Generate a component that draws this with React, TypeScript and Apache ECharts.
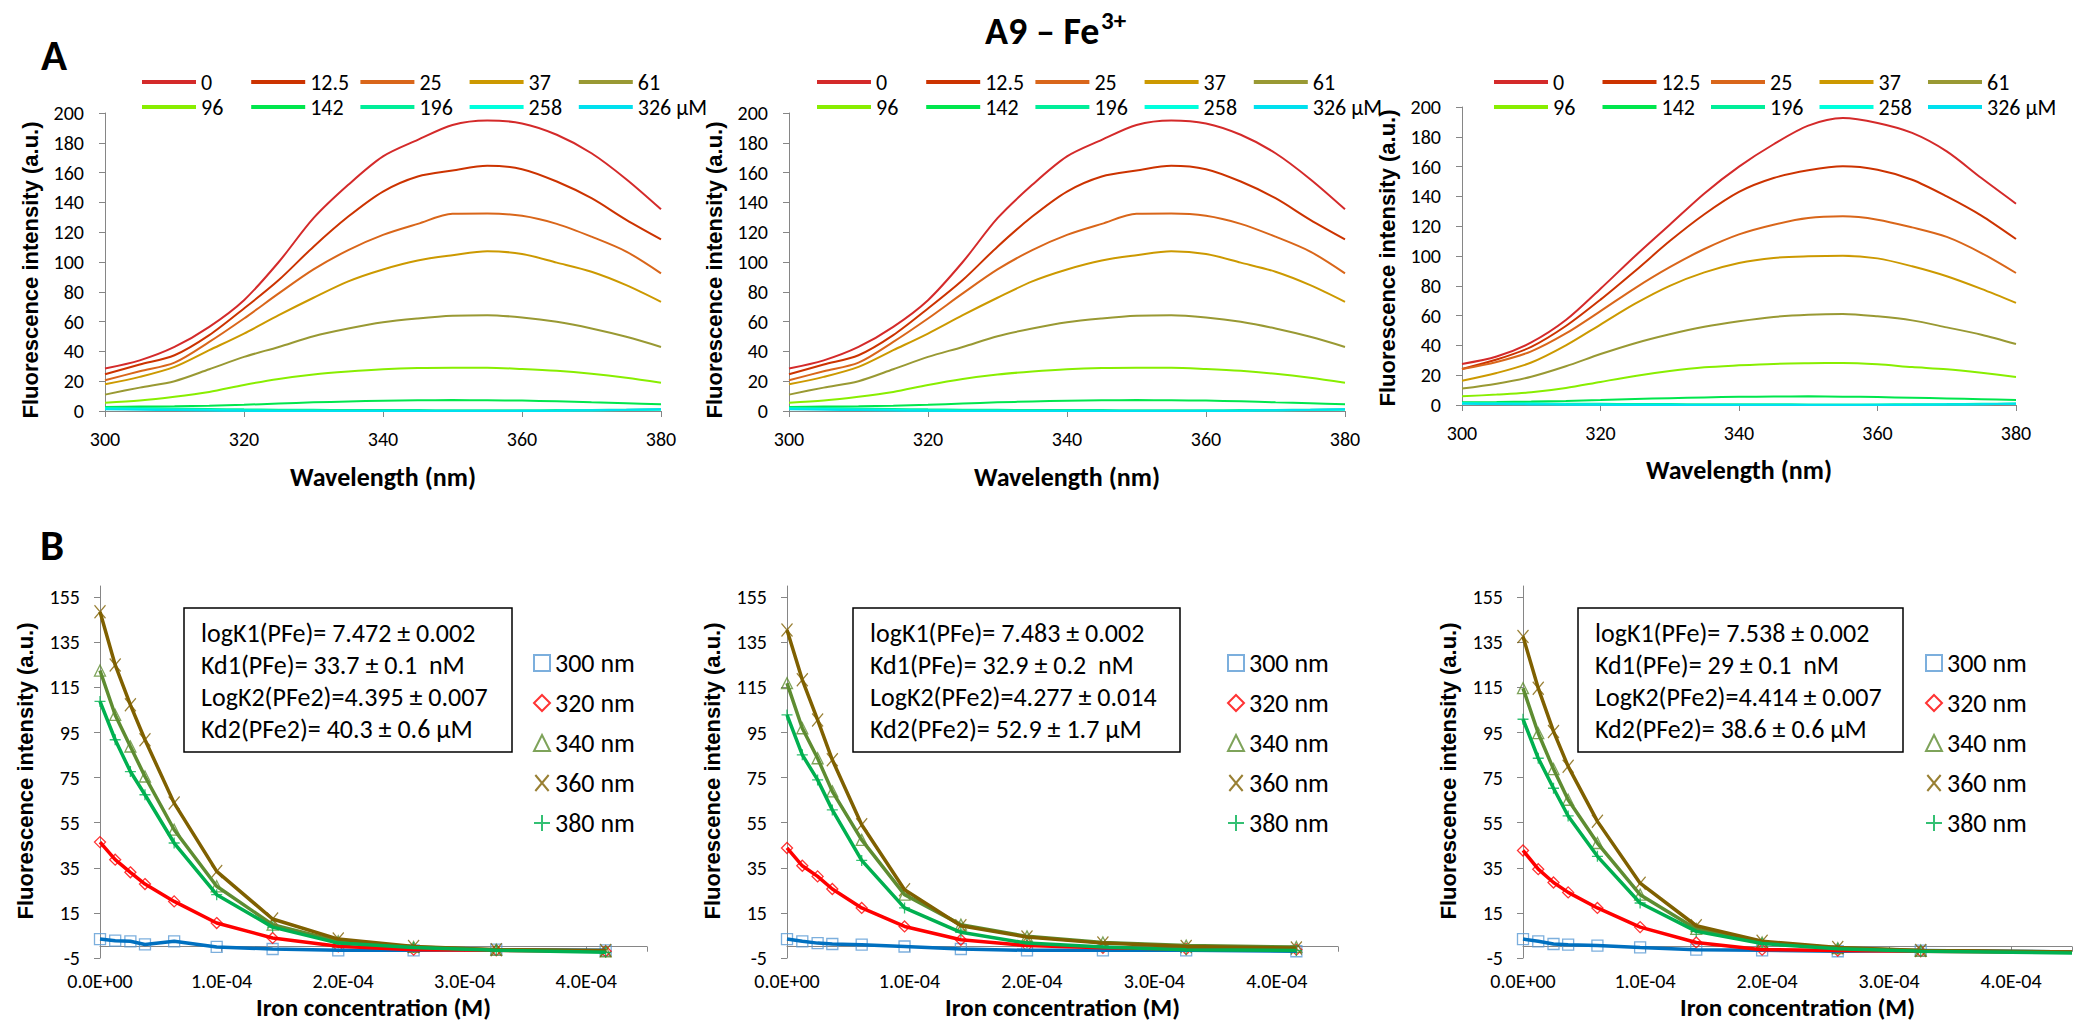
import { useEffect, useRef } from 'react';
import * as echarts from 'echarts';

const FONT = 'Carlito, Calibri, "Liberation Sans", Arial, sans-serif';
const FONT_ARIAL = '"Liberation Sans", Arial, sans-serif';

// ---------- Panel A: emission spectra ----------
const wavelengths = [300, 305, 310, 315, 320, 325, 330, 335, 340, 345, 350, 355, 360, 365, 370, 375, 380];
const titrationLabels = ['0', '12.5', '25', '37', '61', '96', '142', '196', '258', '326 μM'];
const spectrumColors = ['#d42a2a', '#cc3300', '#d9661a', '#cc9900', '#999933', '#88ee00', '#00e64d', '#00ee99', '#00ffdd', '#00e0ee'];

const a1_0 = [28.5, 34, 43, 56.5, 74.4, 100, 129.4, 151.8, 170.9, 182, 192, 195, 193, 185.4, 173, 155.6, 135.4];
const a1_12 = [24.7, 31.2, 37.4, 50.9, 68.8, 87.9, 110.3, 130.5, 147.3, 157.4, 161.4, 164.6, 162.3, 154, 142.8, 128.3, 115.2];
const a1_25 = [20.6, 26.7, 32.5, 46.4, 62.1, 78.9, 95, 108, 118.2, 125.6, 132.3, 132.5, 131, 125.6, 117, 107, 92.4];
const a1_37 = [17.9, 22.9, 29.6, 40.8, 52, 64.3, 76, 87, 95, 101, 104.5, 107.2, 105.4, 99.6, 93.5, 84.5, 73.3];
const a1_61 = [11, 15.7, 20, 28, 36.3, 43, 50.2, 55.4, 59.6, 62.1, 63.9, 64.3, 62.8, 59.9, 55.4, 49.8, 43];
const a1_96 = [5.6, 7, 9.5, 12.8, 17.5, 21.5, 24.5, 26.5, 28, 28.8, 29, 29, 28.2, 27, 25, 22.3, 19];
const a1_142 = [2.7, 3, 3.2, 3.6, 4.2, 5, 5.8, 6.4, 6.9, 7.2, 7.3, 7.2, 7, 6.5, 5.8, 5.2, 4.5];
const a1_196 = [2.2, 2, 1.7, 1.4, 1.1, 0.9, 0.8, 0.7, 0.6, 0.6, 0.5, 0.5, 0.5, 0.6, 0.7, 0.9, 1.1];
const a1_258 = [1.6, 1.3, 1, 0.7, 0.4, 0.2, 0.1, 0, 0, 0, 0, 0, 0.1, 0.2, 0.4, 0.6, 0.9];
const a1_326 = [1.2, 0.9, 0.6, 0.3, 0.1, 0, 0, 0, 0, 0, 0, 0, 0, 0.2, 0.5, 0.8, 1.2];

const a3_0 = [27.5, 32.5, 42, 57, 78, 100, 121, 142, 160, 175, 187.5, 192.6, 189.3, 182.6, 170.2, 152.3, 135.1];
const a3_12 = [24.2, 30.5, 39, 53, 70.7, 90, 110, 128, 143, 152.3, 157.5, 160.2, 157.9, 151.2, 140, 127.1, 111.4];
const a3_25 = [24.2, 28.9, 36, 48, 63, 78.5, 92.5, 104.7, 114.5, 121, 125.5, 126.6, 124.4, 119.2, 112.8, 102, 88.6];
const a3_37 = [16.3, 21.5, 28.5, 40, 54, 68, 80, 89, 95.3, 98.7, 99.8, 100.2, 98.4, 93.1, 86.4, 77.9, 68.5];
const a3_61 = [11, 14.3, 19, 26, 34.2, 41.5, 47.5, 52.5, 56.2, 59.1, 60.6, 61.1, 59.5, 56.8, 52.1, 47.2, 40.9];
const a3_96 = [5.8, 7, 8.5, 11.4, 15.5, 19.5, 22.8, 25.3, 26.6, 27.6, 28, 28.2, 27.3, 25.5, 24, 21.6, 18.8];
const a3_142 = [1.8, 2, 2.3, 2.7, 3.3, 4, 4.6, 5.1, 5.5, 5.7, 5.8, 5.6, 5.3, 4.9, 4.4, 3.9, 3.4];
const a3_196 = [1.5, 1.3, 1.1, 0.9, 0.8, 0.7, 0.6, 0.5, 0.5, 0.5, 0.4, 0.4, 0.4, 0.5, 0.6, 0.8, 1];
const a3_258 = [1.2, 1, 0.8, 0.5, 0.3, 0.2, 0.1, 0, 0, 0, 0, 0, 0.1, 0.2, 0.3, 0.5, 0.8];
const a3_326 = [0.8, 0.6, 0.4, 0.2, 0.1, 0, 0, 0, 0, 0, 0, 0, 0, 0.1, 0.3, 0.5, 0.8];

const spectraA1 = [a1_0, a1_12, a1_25, a1_37, a1_61, a1_96, a1_142, a1_196, a1_258, a1_326];
const spectraA2 = spectraA1; // the middle panel repeats the same spectra
const spectraA3 = [a3_0, a3_12, a3_25, a3_37, a3_61, a3_96, a3_142, a3_196, a3_258, a3_326];

// ---------- Panel B: titration curves ----------
const bLabels = ['300 nm', '320 nm', '340 nm', '360 nm', '380 nm'];
const bLineColors = ['#0070c0', '#ff0000', '#5e8c31', '#7f6000', '#00b050'];
const bMarkerColors = ['#5b9bd5', '#ff0000', '#5e8c31', '#7f6000', '#00b050'];
const bSymbols = ['rect', 'diamond', 'triangle', 'path://M0,0L10,12M10,0L0,12', 'path://M5,0L5,10M0,5L10,5'];

const concB12 = [0, 12.5e-6, 25e-6, 37e-6, 61e-6, 96e-6, 142e-6, 196e-6, 258e-6, 326e-6, 416e-6];
const concB3 = [0, 12.5e-6, 25e-6, 37e-6, 61e-6, 96e-6, 142e-6, 196e-6, 258e-6, 326e-6, 450e-6];

const b1_300 = [3.4, 2.7, 2.4, 1.0, 2.4, -0.1, -1.0, -1.6, -1.6, -1.3, -1.6];
const b1_320 = [46.4, 38.6, 33, 27.8, 20.1, 10.5, 3.9, 0.2, -1.3, -1.6, -2.0];
const b1_340 = [122.5, 102.8, 88.8, 75.5, 51.9, 26.8, 9.8, 2.4, -0.1, -1.3, -2.0];
const b1_360 = [148.6, 125, 107.3, 91.8, 63.7, 33.4, 12.3, 3.4, 0.1, -1.3, -1.7];
const b1_380 = [108.8, 91.8, 77.7, 67.4, 46, 23.1, 8.7, 1.6, -0.3, -1.6, -2.5];

const b2_300 = [3.4, 2.4, 1.6, 1.2, 0.9, 0.1, -1.0, -1.6, -1.6, -1.6, -2.0];
const b2_320 = [43.8, 35.9, 31.2, 25.6, 17.2, 9.0, 3.1, 0.5, -0.5, -1.0, -1.3];
const b2_340 = [116.9, 96.9, 83.6, 68.9, 47.4, 23.1, 9.8, 4.6, 1.9, 0.5, -0.1];
const b2_360 = [140.5, 118.4, 100.6, 82.9, 54.1, 25.3, 9.3, 4.3, 1.6, 0.1, -0.6];
const b2_380 = [102.8, 85.1, 74, 60.7, 38.3, 17.2, 6.4, 1.6, -0.1, -1.3, -1.7];

const b3_300 = [3.4, 2.4, 1.2, 0.9, 0.5, -0.3, -1.3, -1.6, -2.0, -1.7, -2.3];
const b3_320 = [42.7, 34.4, 28.5, 24.1, 17.2, 8.7, 1.9, -1.3, -1.7, -2.0, -2.5];
const b3_340 = [114.7, 94.7, 78.8, 65.2, 46, 23.1, 7.9, 1.9, -0.6, -1.7, -2.5];
const b3_360 = [137.6, 114.7, 95.5, 80, 55.6, 28.2, 9.3, 2.4, -0.3, -1.7, -2.3];
const b3_380 = [100.9, 83.6, 70.3, 58, 40.1, 19.4, 6.8, 1.4, -0.9, -2.0, -2.8];

const fitTextB1 = ['logK1(PFe)= 7.472 ± 0.002', 'Kd1(PFe)= 33.7 ± 0.1  nM', 'LogK2(PFe2)=4.395 ± 0.007', 'Kd2(PFe2)= 40.3 ± 0.6 μM'];
const fitTextB2 = ['logK1(PFe)= 7.483 ± 0.002', 'Kd1(PFe)= 32.9 ± 0.2  nM', 'LogK2(PFe2)=4.277 ± 0.014', 'Kd2(PFe2)= 52.9 ± 1.7 μM'];
const fitTextB3 = ['logK1(PFe)= 7.538 ± 0.002', 'Kd1(PFe)= 29 ± 0.1  nM', 'LogK2(PFe2)=4.414 ± 0.007', 'Kd2(PFe2)= 38.6 ± 0.6 μM'];

const AXIS_GRAY = '#868686';

function sciLabel(v: number) {
  const [m, e] = v.toExponential(1).split('e');
  const sign = e[0] === '-' ? '-' : '+';
  const digits = e.replace(/^[+-]/, '').padStart(2, '0');
  return `${m}E${sign}${digits}`;
}

function buildOption() {
  const aPanels = [
    { grid: { left: 105, top: 113, width: 556, height: 298 }, spectra: spectraA1, legendLeft: 142, step: 109.2, titleY: 270 },
    { grid: { left: 789, top: 113, width: 556, height: 298 }, spectra: spectraA2, legendLeft: 817, step: 109.2, titleY: 270 },
    { grid: { left: 1462, top: 107, width: 554, height: 298 }, spectra: spectraA3, legendLeft: 1494, step: 108.5, titleY: 258 },
  ];
  const bPanels = [
    { grid: { left: 100, top: 586, width: 547, height: 372 }, conc: concB12, markers: 11, vals: [b1_300, b1_320, b1_340, b1_360, b1_380], box: [184, 608, 328, 144], text: fitTextB1, legendLeft: 533 },
    { grid: { left: 787, top: 586, width: 551, height: 372 }, conc: concB12, markers: 11, vals: [b2_300, b2_320, b2_340, b2_360, b2_380], box: [853, 608, 327, 144], text: fitTextB2, legendLeft: 1227 },
    { grid: { left: 1523, top: 586, width: 549, height: 372 }, conc: concB3, markers: 10, vals: [b3_300, b3_320, b3_340, b3_360, b3_380], box: [1578, 608, 325, 144], text: fitTextB3, legendLeft: 1925 },
  ];

  const grid: any[] = [];
  const xAxis: any[] = [];
  const yAxis: any[] = [];
  const series: any[] = [];
  const legend: any[] = [];
  const graphic: any[] = [];

  const axisLine = { show: true, lineStyle: { color: AXIS_GRAY, width: 1 } };
  const axisTick = { show: true, length: 6, lineStyle: { color: AXIS_GRAY } };

  const titleText = (text: string, x: number, y: number, size: number, family: string, rotate = false) => ({
    type: 'text',
    x,
    y,
    rotation: rotate ? Math.PI / 2 : 0,
    z: 100,
    style: {
      text,
      fill: '#000',
      fontSize: size,
      fontWeight: 'bold',
      fontFamily: family,
      align: 'center',
      verticalAlign: 'middle',
      textAlign: 'center',
      textVerticalAlign: 'middle',
    },
  });

  aPanels.forEach((p, idx) => {
    grid.push({ ...p.grid, containLabel: false, outerBoundsMode: 'none' });
    xAxis.push({
      type: 'value', gridIndex: idx, min: 300, max: 380, interval: 20,
      axisLine, axisTick, splitLine: { show: false },
      axisLabel: { fontSize: 20, color: '#000', margin: 18, fontFamily: FONT },
    });
    yAxis.push({
      type: 'value', gridIndex: idx, min: 0, max: 200, interval: 20,
      axisLine, axisTick, splitLine: { show: false },
      axisLabel: { fontSize: 20, color: '#000', margin: 21, fontFamily: FONT },
    });
    p.spectra.forEach((arr, i) => {
      series.push({
        type: 'line', name: titrationLabels[i], xAxisIndex: idx, yAxisIndex: idx,
        data: wavelengths.map((w, k) => [w, arr[k]]),
        showSymbol: false, smooth: 0.3, z: 2,
        lineStyle: { width: 2, color: spectrumColors[i] },
        itemStyle: { color: spectrumColors[i] },
      });
      const col = i % 5;
      const row = Math.floor(i / 5);
      legend.push({
        data: [titrationLabels[i]],
        left: p.legendLeft + col * p.step,
        top: (row === 0 ? 82 : 107) - 11,
        padding: 0,
        icon: 'rect',
        itemWidth: 54,
        itemHeight: 4,
        selectedMode: false,
        textStyle: { fontSize: 22, lineHeight: 22, color: '#000', fontFamily: FONT },
      });
    });
    const g = p.grid;
    graphic.push(titleText('Wavelength (nm)', g.left + g.width / 2, idx === 2 ? 470 : 477, 26, FONT));
    graphic.push(titleText('Fluorescence intensity (a.u.)', g.left - 75, p.titleY, 22, FONT_ARIAL, true));
  });

  bPanels.forEach((p, q) => {
    const gi = 3 + q;
    grid.push({ ...p.grid, containLabel: false, outerBoundsMode: 'none' });
    yAxis.push({
      type: 'value', gridIndex: gi, min: -5, max: 160, interval: 20,
      axisLine, axisTick, splitLine: { show: false },
      axisLabel: { fontSize: 20, lineHeight: 20, color: '#000', margin: 20, fontFamily: FONT, showMaxLabel: false },
    });
  });
  // label axes (bottom) for B panels: indices 3..5
  bPanels.forEach((p, q) => {
    xAxis.push({
      type: 'value', gridIndex: 3 + q, min: 0, max: 4.5e-4, interval: 1e-4, position: 'bottom',
      axisLine: { show: false, onZero: false }, axisTick: { show: false }, splitLine: { show: false },
      axisLabel: { fontSize: 20, lineHeight: 20, color: '#000', margin: 13, fontFamily: FONT, showMaxLabel: false, formatter: (v: number) => sciLabel(v) },
    });
  });
  // zero-line axes for B panels: indices 6..8
  bPanels.forEach((p, q) => {
    xAxis.push({
      type: 'value', gridIndex: 3 + q, min: 0, max: 4.5e-4, interval: 1e-4, position: 'top',
      axisLine: { show: true, onZero: true, lineStyle: { color: AXIS_GRAY, width: 1 } },
      axisTick: { show: true, inside: true, length: 5, lineStyle: { color: AXIS_GRAY } },
      axisLabel: { show: false }, splitLine: { show: false },
    });
  });

  bPanels.forEach((p, q) => {
    const gi = 3 + q;
    p.vals.forEach((vals, j) => {
      series.push({
        type: 'scatter', name: bLabels[j], xAxisIndex: gi, yAxisIndex: gi,
        data: p.conc.slice(0, p.markers).map((c, k) => [c, vals[k]]),
        symbol: bSymbols[j], symbolSize: j === 3 ? [11, 13] : 11, z: 2,
        itemStyle: { color: 'rgba(0,0,0,0)', borderColor: bMarkerColors[j], borderWidth: 1.3 },
      });
    });
    p.vals.forEach((vals, j) => {
      series.push({
        type: 'line', name: bLabels[j] + ' fit', xAxisIndex: gi, yAxisIndex: gi,
        data: p.conc.map((c, k) => [c, vals[k]]),
        showSymbol: false, smooth: false, z: 3,
        lineStyle: { width: 3.5, color: bLineColors[j] },
        itemStyle: { color: bLineColors[j] },
      });
    });
    legend.push({
      data: bLabels,
      orient: 'vertical',
      left: p.legendLeft,
      top: 663 - 13,
      padding: 0,
      itemWidth: 16,
      itemHeight: 16,
      itemGap: 14,
      selectedMode: false,
      itemStyle: { borderWidth: 2 },
      textStyle: { fontSize: 26, lineHeight: 26, color: '#000', fontFamily: FONT },
    });
    const [bx, by, bw, bh] = p.box;
    graphic.push({
      type: 'rect', z: 90,
      shape: { x: bx, y: by, width: bw, height: bh },
      style: { fill: '#fff', stroke: '#000', lineWidth: 1.5 },
    });
    p.text.forEach((line, k) => {
      graphic.push({
        type: 'text', x: bx + 17, y: 633 + k * 32, z: 100,
        style: {
          text: line, fill: '#000', fontSize: 26, fontFamily: FONT,
          align: 'left', verticalAlign: 'middle', textAlign: 'left', textVerticalAlign: 'middle',
        },
      });
    });
    const g = p.grid;
    graphic.push(titleText('Iron concentration (M)', g.left + g.width / 2, 1007, 25, FONT));
    graphic.push(titleText('Fluorescence intensity (a.u.)', g.left - 75, 771, 22, FONT_ARIAL, true));
  });

  // Figure title and panel letters
  graphic.push({
    type: 'text', x: 985, y: 31, z: 100,
    style: { text: 'A9 – Fe', fill: '#000', fontSize: 38, fontWeight: 'bold', fontFamily: FONT, align: 'left', verticalAlign: 'middle', textAlign: 'left', textVerticalAlign: 'middle' },
  });
  graphic.push({
    type: 'text', x: 1101, y: 20, z: 100,
    style: { text: '3+', fill: '#000', fontSize: 25, fontWeight: 'bold', fontFamily: FONT, align: 'left', verticalAlign: 'middle', textAlign: 'left', textVerticalAlign: 'middle' },
  });
  graphic.push(titleText('A', 54, 55, 43, FONT));
  graphic.push(titleText('B', 52, 545, 43, FONT));

  return {
    animation: false,
    backgroundColor: '#ffffff',
    textStyle: { fontFamily: FONT },
    grid,
    xAxis,
    yAxis,
    legend,
    series,
    graphic,
  };
}

export default function App() {
  const ref = useRef<HTMLDivElement>(null);
  useEffect(() => {
    document.body.style.margin = '0';
    if (!ref.current) return;
    const chart = echarts.init(ref.current, undefined, { renderer: 'svg' });
    chart.setOption(buildOption() as any);
    return () => chart.dispose();
  }, []);
  return <div ref={ref} style={{ width: 2074, height: 1023 }} />;
}
